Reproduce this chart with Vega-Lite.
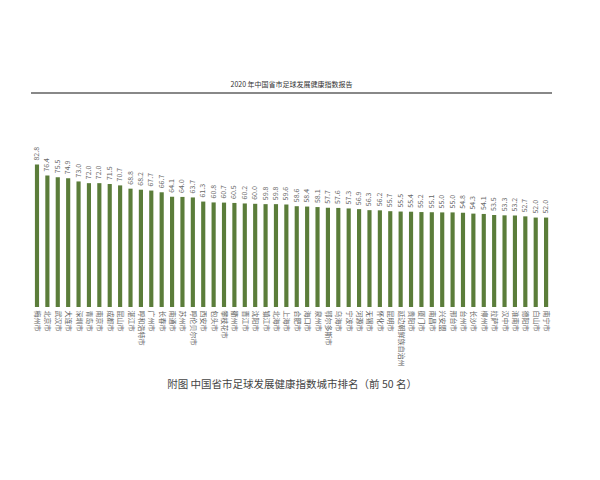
{
  "$schema": "https://vega.github.io/schema/vega-lite/v6.json",
  "autosize": "none",
  "width": 519.5,
  "height": 172,
  "padding": {"left": 31.8, "top": 135, "right": 48.7, "bottom": 173},
  "background": "white",
  "config": {"view": {"stroke": null}, "font": "Noto Sans CJK SC"},
  "title": {"text": "2020 年中国省市足球发展健康指数报告", "fontSize": 7, "fontWeight": "normal", "color": "#333", "offset": 4, "anchor": "middle", "font": "Noto Sans CJK SC"},
  "data": {"values": [
    {"city": "梅州市", "value": 82.8},
    {"city": "北京市", "value": 76.4},
    {"city": "武汉市", "value": 75.5},
    {"city": "大连市", "value": 74.9},
    {"city": "深圳市", "value": 73.0},
    {"city": "青岛市", "value": 72.0},
    {"city": "南京市", "value": 72.0},
    {"city": "成都市", "value": 71.5},
    {"city": "昆山市", "value": 70.7},
    {"city": "湛江市", "value": 68.8},
    {"city": "呼和浩特市", "value": 68.2},
    {"city": "广州市", "value": 67.7},
    {"city": "长春市", "value": 66.7},
    {"city": "南通市", "value": 64.1},
    {"city": "苏州市", "value": 64.0},
    {"city": "呼伦贝尔市", "value": 63.7},
    {"city": "西安市", "value": 61.3},
    {"city": "包头市", "value": 60.8},
    {"city": "攀枝花市", "value": 60.7},
    {"city": "衢州市", "value": 60.5},
    {"city": "晋江市", "value": 60.2},
    {"city": "沈阳市", "value": 60.0},
    {"city": "镇江市", "value": 59.8},
    {"city": "北海市", "value": 59.8},
    {"city": "上海市", "value": 59.6},
    {"city": "合肥市", "value": 58.6},
    {"city": "海口市", "value": 58.4},
    {"city": "泉州市", "value": 58.1},
    {"city": "鄂尔多斯市", "value": 57.7},
    {"city": "乌海市", "value": 57.6},
    {"city": "宁波市", "value": 57.3},
    {"city": "河源市", "value": 56.9},
    {"city": "无锡市", "value": 56.3},
    {"city": "怀化市", "value": 56.2},
    {"city": "昆明市", "value": 55.7},
    {"city": "延边朝鲜族自治州", "value": 55.5},
    {"city": "贵阳市", "value": 55.4},
    {"city": "厦门市", "value": 55.2},
    {"city": "南昌市", "value": 55.1},
    {"city": "兴安盟", "value": 55.0},
    {"city": "邢台市", "value": 55.0},
    {"city": "台州市", "value": 54.8},
    {"city": "长沙市", "value": 54.3},
    {"city": "柳州市", "value": 54.1},
    {"city": "拉萨市", "value": 53.5},
    {"city": "汉中市", "value": 53.3},
    {"city": "淮南市", "value": 53.2},
    {"city": "德阳市", "value": 52.7},
    {"city": "白山市", "value": 52.0},
    {"city": "南宁市", "value": 52.0}
  ]},
  "encoding": {
    "x": {
      "field": "city", "type": "nominal", "sort": null,
      "scale": {"paddingInner": 0.6, "paddingOuter": 0.3},
      "axis": {
        "title": "附图  中国省市足球发展健康指数城市排名（前 50 名）",
        "titleFontSize": 10.5, "titleFontWeight": "normal", "titleColor": "#444",
        "titleY": 72, "titleBaseline": "top",
        "labelAngle": 90, "labelAlign": "left", "labelBaseline": "middle",
        "labelFontSize": 7, "labelColor": "#666", "labelPadding": 3,
        "domain": false, "ticks": false, "labelOverlap": false
      }
    },
    "y": {"field": "value", "type": "quantitative", "scale": {"domain": [0, 100]}, "axis": null}
  },
  "layer": [
    {"mark": {"type": "bar", "color": "#5b7d3a"}},
    {"mark": {"type": "text", "angle": -90, "align": "left", "baseline": "middle", "dx": 4, "fontSize": 7, "color": "#666"},
     "encoding": {"text": {"field": "value", "type": "quantitative", "format": ".1f"}}},
    {"mark": {"type": "rule", "color": "#888", "strokeWidth": 1.5},
     "encoding": {"y": {"datum": 124.4}, "x": null}}
  ]
}
